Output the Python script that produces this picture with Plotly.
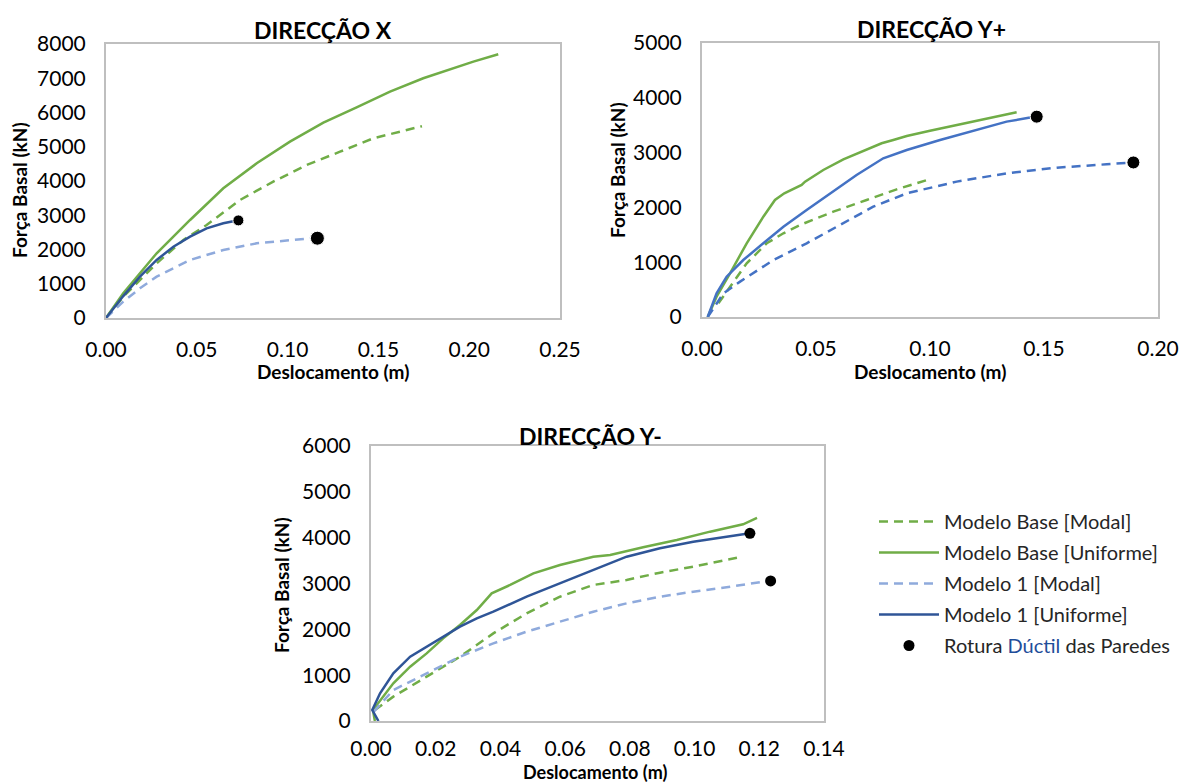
import plotly.graph_objects as go

W, H = 1181, 783

# ---------------- DATA ----------------
# DIRECÇÃO X
x_X_base_modal = [0, 0.0095, 0.0279, 0.0426, 0.0554, 0.0738, 0.0921, 0.1105, 0.1289, 0.1472, 0.1740]
y_X_base_modal = [0, 622, 1597, 2278, 2716, 3446, 3980, 4468, 4856, 5247, 5600]
x_X_base_unif = [0, 0.0095, 0.0279, 0.0463, 0.0646, 0.083, 0.1013, 0.1197, 0.138, 0.1564, 0.1747, 0.1894, 0.2023, 0.216]
y_X_base_unif = [0, 721, 1889, 2862, 3787, 4517, 5148, 5703, 6152, 6608, 6999, 7262, 7484, 7700]
x_X_m1_modal = [0, 0.0095, 0.0187, 0.0279, 0.0463, 0.0646, 0.083, 0.1013, 0.1123, 0.1164]
y_X_m1_modal = [0, 477, 866, 1207, 1694, 1986, 2180, 2278, 2326, 2330]
x_X_m1_unif = [0, 0.0095, 0.0187, 0.0279, 0.0371, 0.0463, 0.0554, 0.0646, 0.0701, 0.0729]
y_X_m1_unif = [0, 640, 1207, 1694, 2083, 2375, 2618, 2764, 2822, 2850]
x_X_rot = [0.0729, 0.1164]
y_X_rot = [2850, 2330]

# DIRECÇÃO Y+
x_Yp_base_modal = [0.0072, 0.0123, 0.0196, 0.0284, 0.0357, 0.043, 0.0576, 0.0722, 0.0854, 0.0987]
y_Yp_base_modal = [250, 553, 980, 1345, 1528, 1679, 1922, 2135, 2330, 2500]
x_Yp_base_unif = [0.0025, 0.0064, 0.0123, 0.0196, 0.0269, 0.032, 0.0361, 0.0437, 0.0452, 0.0532, 0.062, 0.0707,
                  0.0788, 0.0839, 0.0898, 0.1, 0.1117, 0.1263, 0.138]
y_Yp_base_unif = [0, 371, 797, 1345, 1831, 2135, 2257, 2409, 2470, 2683, 2878, 3035,
                  3170, 3230, 3303, 3400, 3504, 3637, 3735]
x_Yp_m1_modal = [0.0025, 0.0094, 0.0167, 0.0313, 0.0459, 0.0605, 0.0751, 0.0898, 0.1117, 0.1336, 0.1556, 0.1775, 0.1892]
y_Yp_m1_modal = [0, 432, 645, 1040, 1345, 1679, 2013, 2257, 2470, 2622, 2725, 2787, 2820]
x_Yp_m1_unif = [0.0025, 0.0064, 0.0108, 0.0181, 0.0269, 0.0357, 0.0459, 0.0561, 0.0678, 0.0795, 0.0898,
                0.1044, 0.119, 0.1336, 0.1439, 0.1468]
y_Yp_m1_unif = [0, 432, 736, 1040, 1345, 1648, 1953, 2257, 2592, 2896, 3048,
                3230, 3400, 3565, 3640, 3656]
x_Yp_rot = [0.1468, 0.1892]
y_Yp_rot = [3656, 2820]

# DIRECÇÃO Y-
x_Ym_base_modal = [0.0012, 0.0069, 0.0172, 0.0275, 0.0378, 0.0481, 0.0584, 0.0687, 0.079, 0.0893, 0.0996, 0.1131]
y_Ym_base_modal = [240, 531, 967, 1403, 1912, 2349, 2712, 2968, 3077, 3236, 3367, 3560]
x_Ym_base_unif = [0.0012, 0.0006, 0.0069, 0.0121, 0.0172, 0.0223, 0.0275, 0.0327, 0.0373, 0.043, 0.0502, 0.0584,
                  0.0687, 0.0739, 0.0841, 0.0945, 0.1048, 0.115, 0.1193]
y_Ym_base_unif = [0, 240, 822, 1185, 1476, 1803, 2095, 2422, 2786, 2968, 3222, 3404,
                  3585, 3622, 3790, 3949, 4131, 4291, 4430]
x_Ym_m1_modal = [0.0008, 0.0069, 0.0172, 0.0275, 0.0378, 0.0481, 0.0584, 0.0687, 0.079, 0.0893, 0.0996, 0.1099, 0.1213, 0.1235]
y_Ym_m1_modal = [200, 676, 1040, 1403, 1694, 1949, 2167, 2385, 2567, 2712, 2821, 2917, 3040, 3055]
x_Ym_m1_unif = [0.0023, 0.0004, 0.0028, 0.0069, 0.0121, 0.0172, 0.0223, 0.0275, 0.0327, 0.0378, 0.0481, 0.0584,
                0.0687, 0.079, 0.0893, 0.0996, 0.1099, 0.115, 0.1171]
y_Ym_m1_unif = [0, 240, 604, 1040, 1403, 1621, 1839, 2057, 2240, 2385, 2712, 3003,
                3295, 3585, 3768, 3912, 4021, 4073, 4094]
x_Ym_rot = [0.1171, 0.1235]
y_Ym_rot = [4094, 3055]

titles = ["DIRECÇÃO X", "DIRECÇÃO Y+", "DIRECÇÃO Y-"]
x_title = "Deslocamento (m)"
y_title = "Força Basal (kN)"
legend_names = ["Modelo Base [Modal]", "Modelo Base [Uniforme]", "Modelo 1 [Modal]",
                "Modelo 1 [Uniforme]", "Rotura <span style='color:#1F4E9A'>Dúctil</span> das Paredes"]

# ---------------- STYLE ----------------
GREEN = "#70AD47"
DARKBLUE = "#2F5597"
LIGHTBLUE = "#8FAADC"
MIDBLUE = "#4472C4"
DASH = "9px,6px"
LW = 2.5
FONT = "Lato"

def px(x):
    return x / W

def py(y):
    return 1 - y / H

fig = go.Figure()

def add_set(xa, ya, data, colors, show_legend, dot_sizes):
    (bm, bu, mm, mu, rot) = data
    specs = [
        (bm, legend_names[0], colors[0], DASH),
        (bu, legend_names[1], colors[1], "solid"),
        (mm, legend_names[2], colors[2], DASH),
        (mu, legend_names[3], colors[3], "solid"),
    ]
    for i, ((xs, ys), name, col, dash) in enumerate(specs):
        fig.add_trace(go.Scatter(x=xs, y=ys, mode="lines", name=name,
                                 line=dict(color=col, width=LW, dash=dash),
                                 xaxis=xa, yaxis=ya, showlegend=show_legend,
                                 legendgroup=f"g{i}", legendrank=i + 1))
    fig.add_trace(go.Scatter(x=rot[0], y=rot[1], mode="markers", name=legend_names[4],
                             marker=dict(color="black", size=dot_sizes, opacity=1),
                             xaxis=xa, yaxis=ya, showlegend=show_legend,
                             legendgroup="g4", legendrank=5))

add_set("x", "y",
        ((x_X_base_modal, y_X_base_modal), (x_X_base_unif, y_X_base_unif),
         (x_X_m1_modal, y_X_m1_modal), (x_X_m1_unif, y_X_m1_unif), (x_X_rot, y_X_rot)),
        (GREEN, GREEN, LIGHTBLUE, DARKBLUE), False, [11, 14])
add_set("x2", "y2",
        ((x_Yp_base_modal, y_Yp_base_modal), (x_Yp_base_unif, y_Yp_base_unif),
         (x_Yp_m1_modal, y_Yp_m1_modal), (x_Yp_m1_unif, y_Yp_m1_unif), (x_Yp_rot, y_Yp_rot)),
        (GREEN, GREEN, MIDBLUE, MIDBLUE), False, [13, 13])
add_set("x3", "y3",
        ((x_Ym_base_modal, y_Ym_base_modal), (x_Ym_base_unif, y_Ym_base_unif),
         (x_Ym_m1_modal, y_Ym_m1_modal), (x_Ym_m1_unif, y_Ym_m1_unif), (x_Ym_rot, y_Ym_rot)),
        (GREEN, GREEN, LIGHTBLUE, DARKBLUE), True, 11)

# plot areas in pixels: (left, right, top, bottom)
areas = [(106, 560, 44, 318), (702, 1158, 43, 317), (371, 824, 446, 721)]
xranges = [[0, 0.25], [0, 0.20], [0, 0.14]]
xdticks = [0.05, 0.05, 0.02]
yranges = [[0, 8000], [0, 5000], [0, 6000]]
xstandoffs = [12, 12, 8]

axis_common = dict(showgrid=False, zeroline=False, showline=True, mirror=True,
                   linecolor="#BFBFBF", linewidth=2, ticks="", automargin=False,
                   tickfont=dict(family=FONT, size=21, color="black"))

layout_axes = {}
for i, ((l, r, t, b), xr, xd, yr, so) in enumerate(zip(areas, xranges, xdticks, yranges, xstandoffs)):
    sfx = "" if i == 0 else str(i + 1)
    layout_axes["xaxis" + sfx] = dict(axis_common, domain=[px(l), px(r)], range=xr, dtick=xd,
                                      tickformat=".2f", anchor="y" + sfx, ticklabelstandoff=so)
    layout_axes["yaxis" + sfx] = dict(axis_common, domain=[py(b), py(t)], range=yr, dtick=1000,
                                      anchor="x" + sfx, ticklabelstandoff=14)

fig.update_layout(**layout_axes)

annotations = []
title_pos = [(323, 30), (931, 29), (590, 436)]
for txt, (x, y) in zip(titles, title_pos):
    annotations.append(dict(text=f"<b>{txt}</b>", x=px(x), y=py(y), xref="paper", yref="paper",
                            xanchor="center", yanchor="middle", showarrow=False,
                            font=dict(family=FONT, size=23, color="black")))
xt_pos = [(333, 371, 19), (930, 371, 19), (595, 772, 18)]
for (x, y, s) in xt_pos:
    annotations.append(dict(text=f"<b>{x_title}</b>", x=px(x), y=py(y), xref="paper", yref="paper",
                            xanchor="center", yanchor="middle", showarrow=False,
                            font=dict(family=FONT, size=s, color="black")))
yt_pos = [(20, 190), (617, 170), (281, 585)]
for (x, y) in yt_pos:
    annotations.append(dict(text=f"<b>{y_title}</b>", x=px(x), y=py(y), xref="paper", yref="paper",
                            xanchor="center", yanchor="middle", showarrow=False, textangle=-90,
                            font=dict(family=FONT, size=19, color="black")))

fig.update_layout(
    width=W, height=H,
    margin=dict(l=0, r=0, t=0, b=0),
    paper_bgcolor="white", plot_bgcolor="white",
    annotations=annotations,
    showlegend=True,
    legend=dict(x=px(874), y=py(502), xanchor="left", yanchor="top",
                font=dict(family=FONT, size=20, color="#262626"),
                tracegroupgap=2, bgcolor="rgba(0,0,0,0)", itemwidth=60),
)

fig.write_html("out.html")
